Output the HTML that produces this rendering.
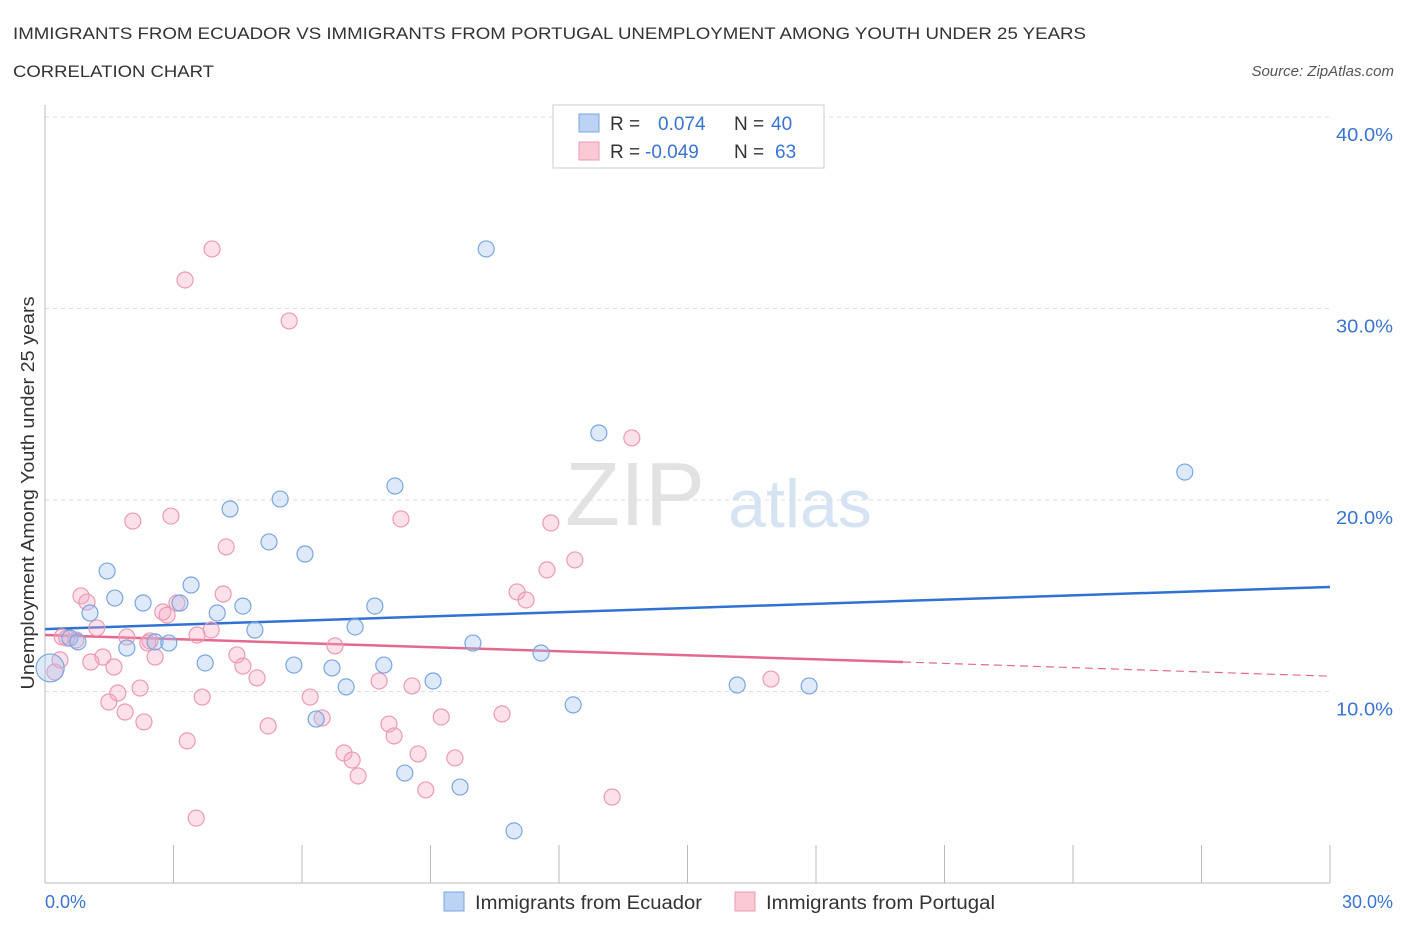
<!DOCTYPE html>
<html><head><meta charset="utf-8">
<style>
body{margin:0;background:#fff;font-family:"Liberation Sans",sans-serif;}
svg text{font-family:"Liberation Sans",sans-serif;}
</style></head>
<body>
<svg id="chart" width="1406" height="930">
<text x="13" y="39" font-size="17" fill="#333" textLength="1073" lengthAdjust="spacingAndGlyphs">IMMIGRANTS FROM ECUADOR VS IMMIGRANTS FROM PORTUGAL UNEMPLOYMENT AMONG YOUTH UNDER 25 YEARS</text>
<text x="13" y="77" font-size="17" fill="#333" textLength="201" lengthAdjust="spacingAndGlyphs">CORRELATION CHART</text>
<text x="1394" y="76" font-size="15" fill="#555" font-style="italic" text-anchor="end">Source: ZipAtlas.com</text>
<text x="635" y="525" font-size="90" fill="#e2e2e2" font-family="Liberation Serif" text-anchor="middle">ZIP</text>
<text x="800" y="527" font-size="68" fill="#d5e3f3" text-anchor="middle">atlas</text>
<g id="grid"></g><g id="axes"></g><g id="lines"></g><g id="pts"></g>
<text x="34" y="493" font-size="18" fill="#333" text-anchor="middle" textLength="393" lengthAdjust="spacingAndGlyphs" transform="rotate(-90 34 493)">Unemployment Among Youth under 25 years</text>
<g>
<rect x="553" y="105" width="271" height="63" fill="#fff" stroke="#ccc"/>
<rect x="579" y="114" width="20" height="18" fill="#bcd3f3" stroke="#7aa6e0"/>
<rect x="579" y="142" width="20" height="18" fill="#f9c9d6" stroke="#eb9ab2"/>
<text x="610" y="130" font-size="19" fill="#333">R =</text><text x="658" y="130" font-size="19" fill="#3a74d1">0.074</text>
<text x="734" y="130" font-size="19" fill="#333">N =</text><text x="771" y="130" font-size="19" fill="#3a74d1">40</text>
<text x="610" y="158" font-size="19" fill="#333">R =</text><text x="645" y="158" font-size="19" fill="#3a74d1">-0.049</text>
<text x="734" y="158" font-size="19" fill="#333">N =</text><text x="775" y="158" font-size="19" fill="#3a74d1">63</text>
</g>
<g>
<rect x="444" y="892" width="20" height="19" fill="#bcd3f3" stroke="#7aa6e0"/>
<text x="475" y="909" font-size="19" fill="#333" textLength="227" lengthAdjust="spacingAndGlyphs">Immigrants from Ecuador</text>
<rect x="735" y="892" width="20" height="19" fill="#f9c9d6" stroke="#eb9ab2"/>
<text x="766" y="909" font-size="19" fill="#333" textLength="229" lengthAdjust="spacingAndGlyphs">Immigrants from Portugal</text>
</g>
</svg>
<script>
const yTicks=[10,20,30,40];
const xTickLabels=["0.0%","30.0%"];
const ecX=[10.30,12.93,26.61,8.17,4.32,5.49,5.23,6.07,1.45,3.41,1.63,2.29,3.15,4.02,4.62,7.70,1.05,7.24,4.90,0.58,0.77,2.57,2.89,1.91,9.99,11.58,3.74,5.81,6.70,7.91,9.06,7.03,16.16,17.84,12.33,6.33,8.40,9.69,10.95,0.12];
const ecY=[33.11,23.50,21.46,20.73,19.53,20.05,17.81,17.18,16.29,15.56,14.88,14.62,14.62,14.10,14.46,14.46,14.10,13.37,13.21,12.79,12.59,12.59,12.53,12.27,12.53,12.01,11.49,11.38,11.23,11.38,10.55,10.24,10.34,10.29,9.30,8.56,5.74,5.01,2.72,11.23];
const ptX=[3.90,3.27,5.70,13.70,2.05,2.94,8.31,11.81,4.23,12.37,11.72,0.84,0.98,11.02,11.23,4.16,3.08,2.75,2.85,1.21,0.40,0.72,1.91,3.88,3.55,2.45,2.40,6.77,2.57,1.35,4.48,1.07,1.61,4.62,0.23,4.95,7.80,8.57,16.95,2.22,1.70,6.19,3.67,1.49,1.87,6.47,2.31,5.21,9.25,10.67,8.03,8.15,3.32,6.98,8.71,7.17,9.57,7.31,8.89,13.24,3.53,0.35,0.51];
const ptY=[33.11,31.49,29.35,23.24,18.90,19.16,19.01,18.80,17.55,16.87,16.35,14.99,14.67,15.20,14.78,15.09,14.62,14.15,13.99,13.32,12.85,12.69,12.85,13.21,12.95,12.64,12.53,12.38,11.80,11.80,11.91,11.54,11.28,11.33,11.02,10.71,10.55,10.29,10.65,10.18,9.92,9.71,9.71,9.45,8.93,8.62,8.41,8.20,8.67,8.83,8.30,7.68,7.42,6.79,6.74,6.42,6.53,5.59,4.86,4.49,3.39,11.65,12.79];
const ecTrend=[13.26,15.46];
const ptTrend=[12.95,11.54,10.8];
const ptSolidEnd=20.03;
const NS='http://www.w3.org/2000/svg';
const X=v=>45+v/30*1285, Y=v=>883-v*19.15;
function mk(t,a,p){const e=document.createElementNS(NS,t);for(const k in a)e.setAttribute(k,a[k]);document.getElementById(p).appendChild(e);return e;}
yTicks.forEach((t,i)=>{
 const g=mk('line',{x1:45,x2:1330,y1:Y(t),y2:Y(t),stroke:'#ddd','stroke-dasharray':'4,4'},'grid');
 
 
 const l=mk('text',{x:1393,y:Y(t)+24,'font-size':18,fill:'#3a74d1','text-anchor':'end',textLength:57,lengthAdjust:'spacingAndGlyphs'},'axes');
 l.textContent=t.toFixed(1)+'%';
 
 
});
const tl=mk('line',{x1:45,x2:1330,y1:117,y2:117,stroke:'#ddd','stroke-dasharray':'4,4'},'grid');


const ya=mk('line',{x1:45,x2:45,y1:105,y2:883,stroke:'#bbb'},'axes');


const xa=mk('line',{x1:45,x2:1330,y1:883,y2:883,stroke:'#bbb'},'axes');


for(let i=0;i<=10;i++){const t=mk('line',{x1:X(i*3),x2:X(i*3),y1:845,y2:883,stroke:'#bbb'},'axes');
 
 }
[[0,'start',45],[30,'end',1393]].forEach((d,i)=>{const l=mk('text',{x:d[2],y:908,'font-size':18,fill:'#3a74d1','text-anchor':d[1]},'axes');l.textContent=xTickLabels[i];
 
 });
const bl=mk('line',{x1:X(0),y1:Y(ecTrend[0]),x2:X(30),y2:Y(ecTrend[1]),stroke:'#2f72d3','stroke-width':2.5},'lines');


const pl=mk('line',{x1:X(0),y1:Y(ptTrend[0]),x2:X(ptSolidEnd),y2:Y(ptTrend[1]),stroke:'#e4698f','stroke-width':2.5},'lines');


const pd=mk('line',{x1:X(ptSolidEnd),y1:Y(ptTrend[1]),x2:X(30),y2:Y(ptTrend[2]),stroke:'#e4698f','stroke-width':1.2,'stroke-dasharray':'8,5'},'lines');


ptX.forEach((x,i)=>{const c=mk('circle',{cx:X(x),cy:Y(ptY[i]),r:8,fill:'rgba(246,170,195,0.35)',stroke:'#eb9ab2','stroke-width':1.2},'pts');
 
 });
ecX.forEach((x,i)=>{const c=mk('circle',{cx:X(x),cy:Y(ecY[i]),r:i==ecX.length-1?14:8,fill:'rgba(160,195,240,0.35)',stroke:'#7aa6e0','stroke-width':1.2},'pts');
 
 });
</script>
</body></html>
